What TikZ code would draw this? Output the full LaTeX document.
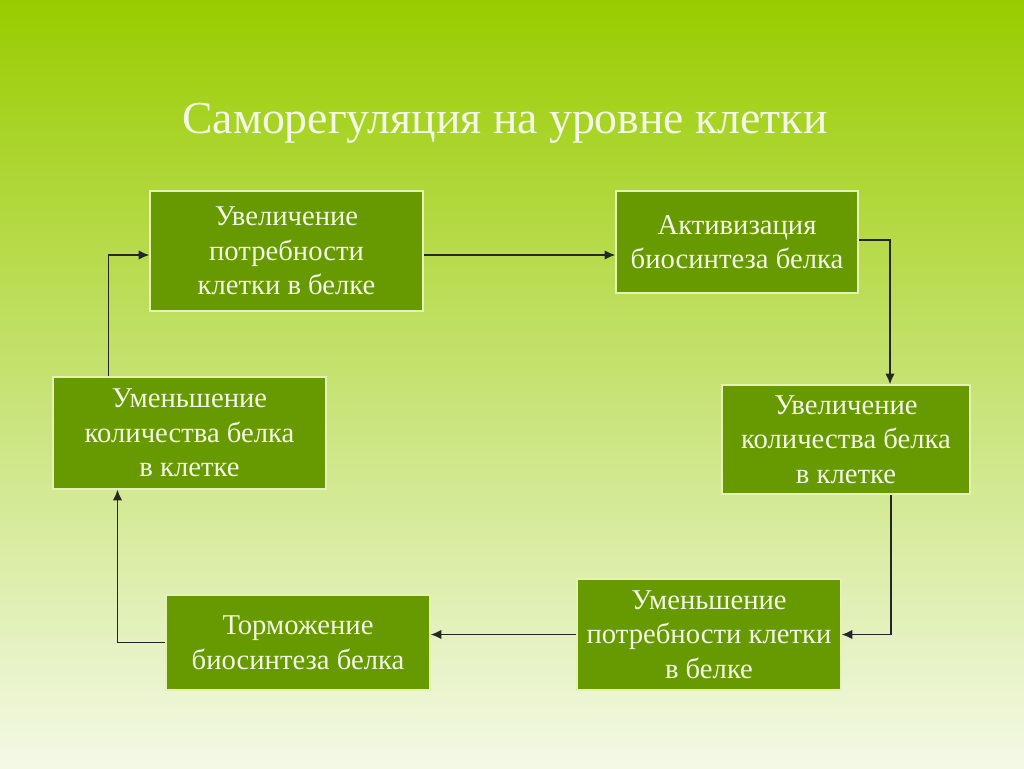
\documentclass[tikz,border=0pt]{standalone}
\usepackage{fontspec}
\setmainfont{Liberation Serif}
\usepackage{tikz}
\usetikzlibrary{arrows.meta,calc}
\definecolor{boxgreen}{HTML}{669A00}
\definecolor{boxedge}{HTML}{E4F2B8}
\definecolor{boxtext}{HTML}{F4F8E6}
\definecolor{bgtop}{HTML}{99CC00}
\definecolor{bgmid}{HTML}{C6E26E}
\definecolor{bgbottom}{HTML}{F4F9E6}
\tikzstyle{block} = [rectangle, fill=boxgreen, draw=boxedge, line width=1pt, text=boxtext, align=center, inner sep=2pt, font=\fontsize{21.5}{25.9}\selectfont]
\tikzstyle{arrow} = [line width=1.1pt, draw=black!85, -{Latex[length=8pt,width=7pt]}]

\begin{document}
\begin{tikzpicture}[x=0.75pt, y=-0.75pt] % pixel grid of the slide

% Background and title
\shade[top color=bgtop, middle color=bgmid, bottom color=bgbottom] (0,0) rectangle (1024,768);
\useasboundingbox (0,0) rectangle (1024,768);
\node(title) at (505,123) [text=boxtext, font=\fontsize{34.3}{38}\selectfont] {Саморегуляция на уровне клетки};

% Place the nodes
\node(inc_need)   at (286.5,251)   [block, minimum width=273*0.75pt, minimum height=120*0.75pt] {Увеличение\\потребности\\клетки в белке};
\node(act_synth)  at (737,242)     [block, minimum width=242*0.75pt, minimum height=102*0.75pt] {Активизация\\биосинтеза белка};
\node(inc_amount) at (846,439.5)   [block, minimum width=248*0.75pt, minimum height=109*0.75pt] {Увеличение\\количества белка\\в клетке};
\node(dec_need)   at (709,634.5)   [block, minimum width=264*0.75pt, minimum height=111*0.75pt] {Уменьшение\\потребности клетки\\в белке};
\node(inh_synth)  at (298,642.5)   [block, minimum width=264*0.75pt, minimum height=95*0.75pt] {Торможение\\биосинтеза белка};
\node(dec_amount) at (189.5,433)   [block, minimum width=273*0.75pt, minimum height=112*0.75pt] {Уменьшение\\количества белка\\в клетке};

% Connect the nodes with arrows
\draw [arrow] ($(inc_need.east)+(0,4)$)   -- ($(inc_need.east -| act_synth.west)+(0,4)$);
\draw [arrow] ($(act_synth.east)+(0,-2)$) -| ($(inc_amount.north)+(44,0)$);
\draw [arrow] ($(inc_amount.south)+(45,0)$) |- (dec_need.east);
\draw [arrow] (dec_need.west)             -- (dec_need.west -| inh_synth.east);
\draw [arrow] (inh_synth.west)            -| ($(dec_amount.south)+(-72,0)$);
\draw [arrow] ($(dec_amount.north)+(-81,0)$) |- ($(inc_need.west)+(0,4)$);

\end{tikzpicture}
\end{document}
